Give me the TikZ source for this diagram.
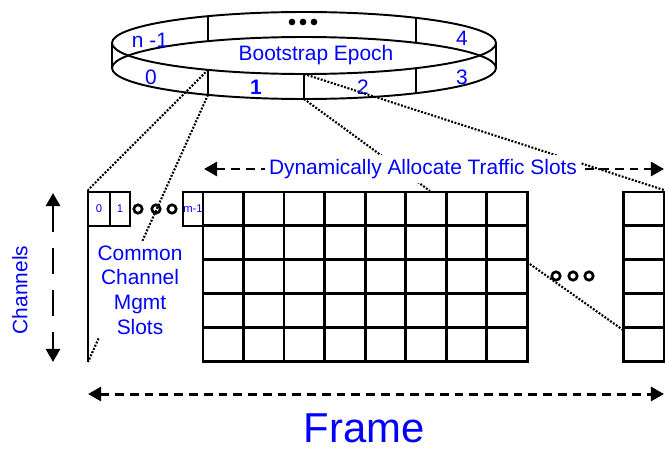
\documentclass[tikz,border=0pt]{standalone}
\usepackage{fontspec}
\setmainfont{Liberation Sans}
\usepackage{tikz}
\usetikzlibrary{calc, arrows.meta}
\usepackage{tkz-euclide}

\begin{document}
\begin{tikzpicture}[x=0.02cm, y=-0.02cm,
        lbl/.style={text=blue, font=\fontsize{11.9}{14}\selectfont, inner sep=0pt},
        tiny/.style={text=blue, font=\fontsize{6.4}{7}\selectfont, inner sep=0pt},
        ring/.style={line width=1.1pt},
        cell/.style={line width=1.7pt, line cap=rect},
        link/.style={line width=1.2pt, dash pattern=on 1.1pt off 0.9pt},
        sizearrow/.style={line width=1.7pt, dash pattern=on 5pt off 3.4pt,
            {Triangle[length=7.5pt,width=8pt]}-{Triangle[length=7.5pt,width=8pt]}},
        bigdot/.style={circle, fill, inner sep=0pt, minimum size=3.8pt},
        opendot/.style={circle, draw, line width=1.5pt, inner sep=0pt, minimum size=4.8pt}]
        \useasboundingbox (0,0) rectangle (665,450);

        % bootstrap ring
        \draw[ring] (304,43) ellipse [x radius=192, y radius=31];
        \draw[ring] (304,68) ellipse [x radius=192, y radius=31];
        \draw[ring] (112,43) -- (112,68) (496,43) -- (496,68);
        \draw[ring] (208,16.2) -- (208,41.2) (416,17.8) -- (416,42.8);
        \draw[ring] (208,69.8) -- (208,94.8) (304,74) -- (304,99) (416,68.2) -- (416,93.2);

        \node[lbl] (epoch) at (316,55) {Bootstrap Epoch};
        \node[lbl] (en) at (150,40) {n -1};
        \node[lbl] (e0) at (151,77) {0};
        \node[lbl, font=\fontsize{11.9}{14}\selectfont\bfseries] (e1) at (256,87) {1};
        \node[lbl] (e2) at (363,87) {2};
        \node[lbl] (e3) at (462,77) {3};
        \node[lbl] (e4) at (462,38) {4};
        \node[bigdot] (d1) at (292,22) {};
        \node[bigdot] (d2) at (303,22) {};
        \node[bigdot] (d3) at (314,22) {};

        % zoom lines
        \tkzDefPoints{208/69.8/a1, 88/190/b1, 208/94.8/a2, 88/362/b2,
            304/74/c1, 664/190/c2, 304/99/c3, 430/191/c4, 527/262/f1, 623/330/f2}
        \draw[link] (a1) -- (b1);
        \draw[link] (a2) -- (b2);
        \draw[link] (c1) -- (c2);
        \draw[link] (c3) -- (c4);
        \draw[link] (f1) -- (f2);

        % common channel slots
        \draw[line width=0.9pt] (b1) -- (b2);
        \draw[cell] (88,192) rectangle (110,226);
        \draw[cell] (110,192) rectangle (130,226);
        \draw[cell] (183,192) rectangle (203,226);
        \node[tiny] (s0) at (99,209) {0};
        \node[tiny] (s1) at (120,209) {1};
        \node[tiny] (sm) at (193,209) {m-1};
        \node[opendot] (o1) at (138,209) {};
        \node[opendot] (o2) at (156,209) {};
        \node[opendot] (o3) at (172,209) {};

        % traffic slots
        \foreach \i in {0,...,8}
            \draw[cell] ({203+40.5*\i},192) -- ({203+40.5*\i},361);
        \foreach \j in {0,...,5}{
            \draw[cell] (203,{192+33.8*\j}) -- (527,{192+33.8*\j});
            \draw[cell] (623,{192+33.8*\j}) -- (664,{192+33.8*\j});
        }
        \draw[cell] (623,192) -- (623,361) (664,192) -- (664,361);
        \node[opendot] (p1) at (556,276) {};
        \node[opendot] (p2) at (573,276) {};
        \node[opendot] (p3) at (589,276) {};

        % sizes
        \tkzDefPoints{204/169/t1, 664/169/t2, 53/193/h1, 53/362/h2, 88/394/w1, 664/394/w2}
        \draw[sizearrow] (t1) -- (t2);
        \draw[sizearrow, dash pattern=on 15pt off 9pt] (h1) -- (h2);
        \draw[sizearrow] (w1) -- (w2);

        \node[lbl, fill=white, inner sep=2.5pt] (traffic) at (423,169) {Dynamically Allocate Traffic Slots};
        \node[lbl, fill=white, inner sep=2pt, align=center] (common) at (140,290) {Common\\Channel\\Mgmt\\Slots};
        \node[lbl, rotate=90] (chan) at (20,290) {Channels};
        \node[lbl, font=\fontsize{23.8}{28}\selectfont] (frame) at (364,428) {Frame};
    \end{tikzpicture}
\end{document}
